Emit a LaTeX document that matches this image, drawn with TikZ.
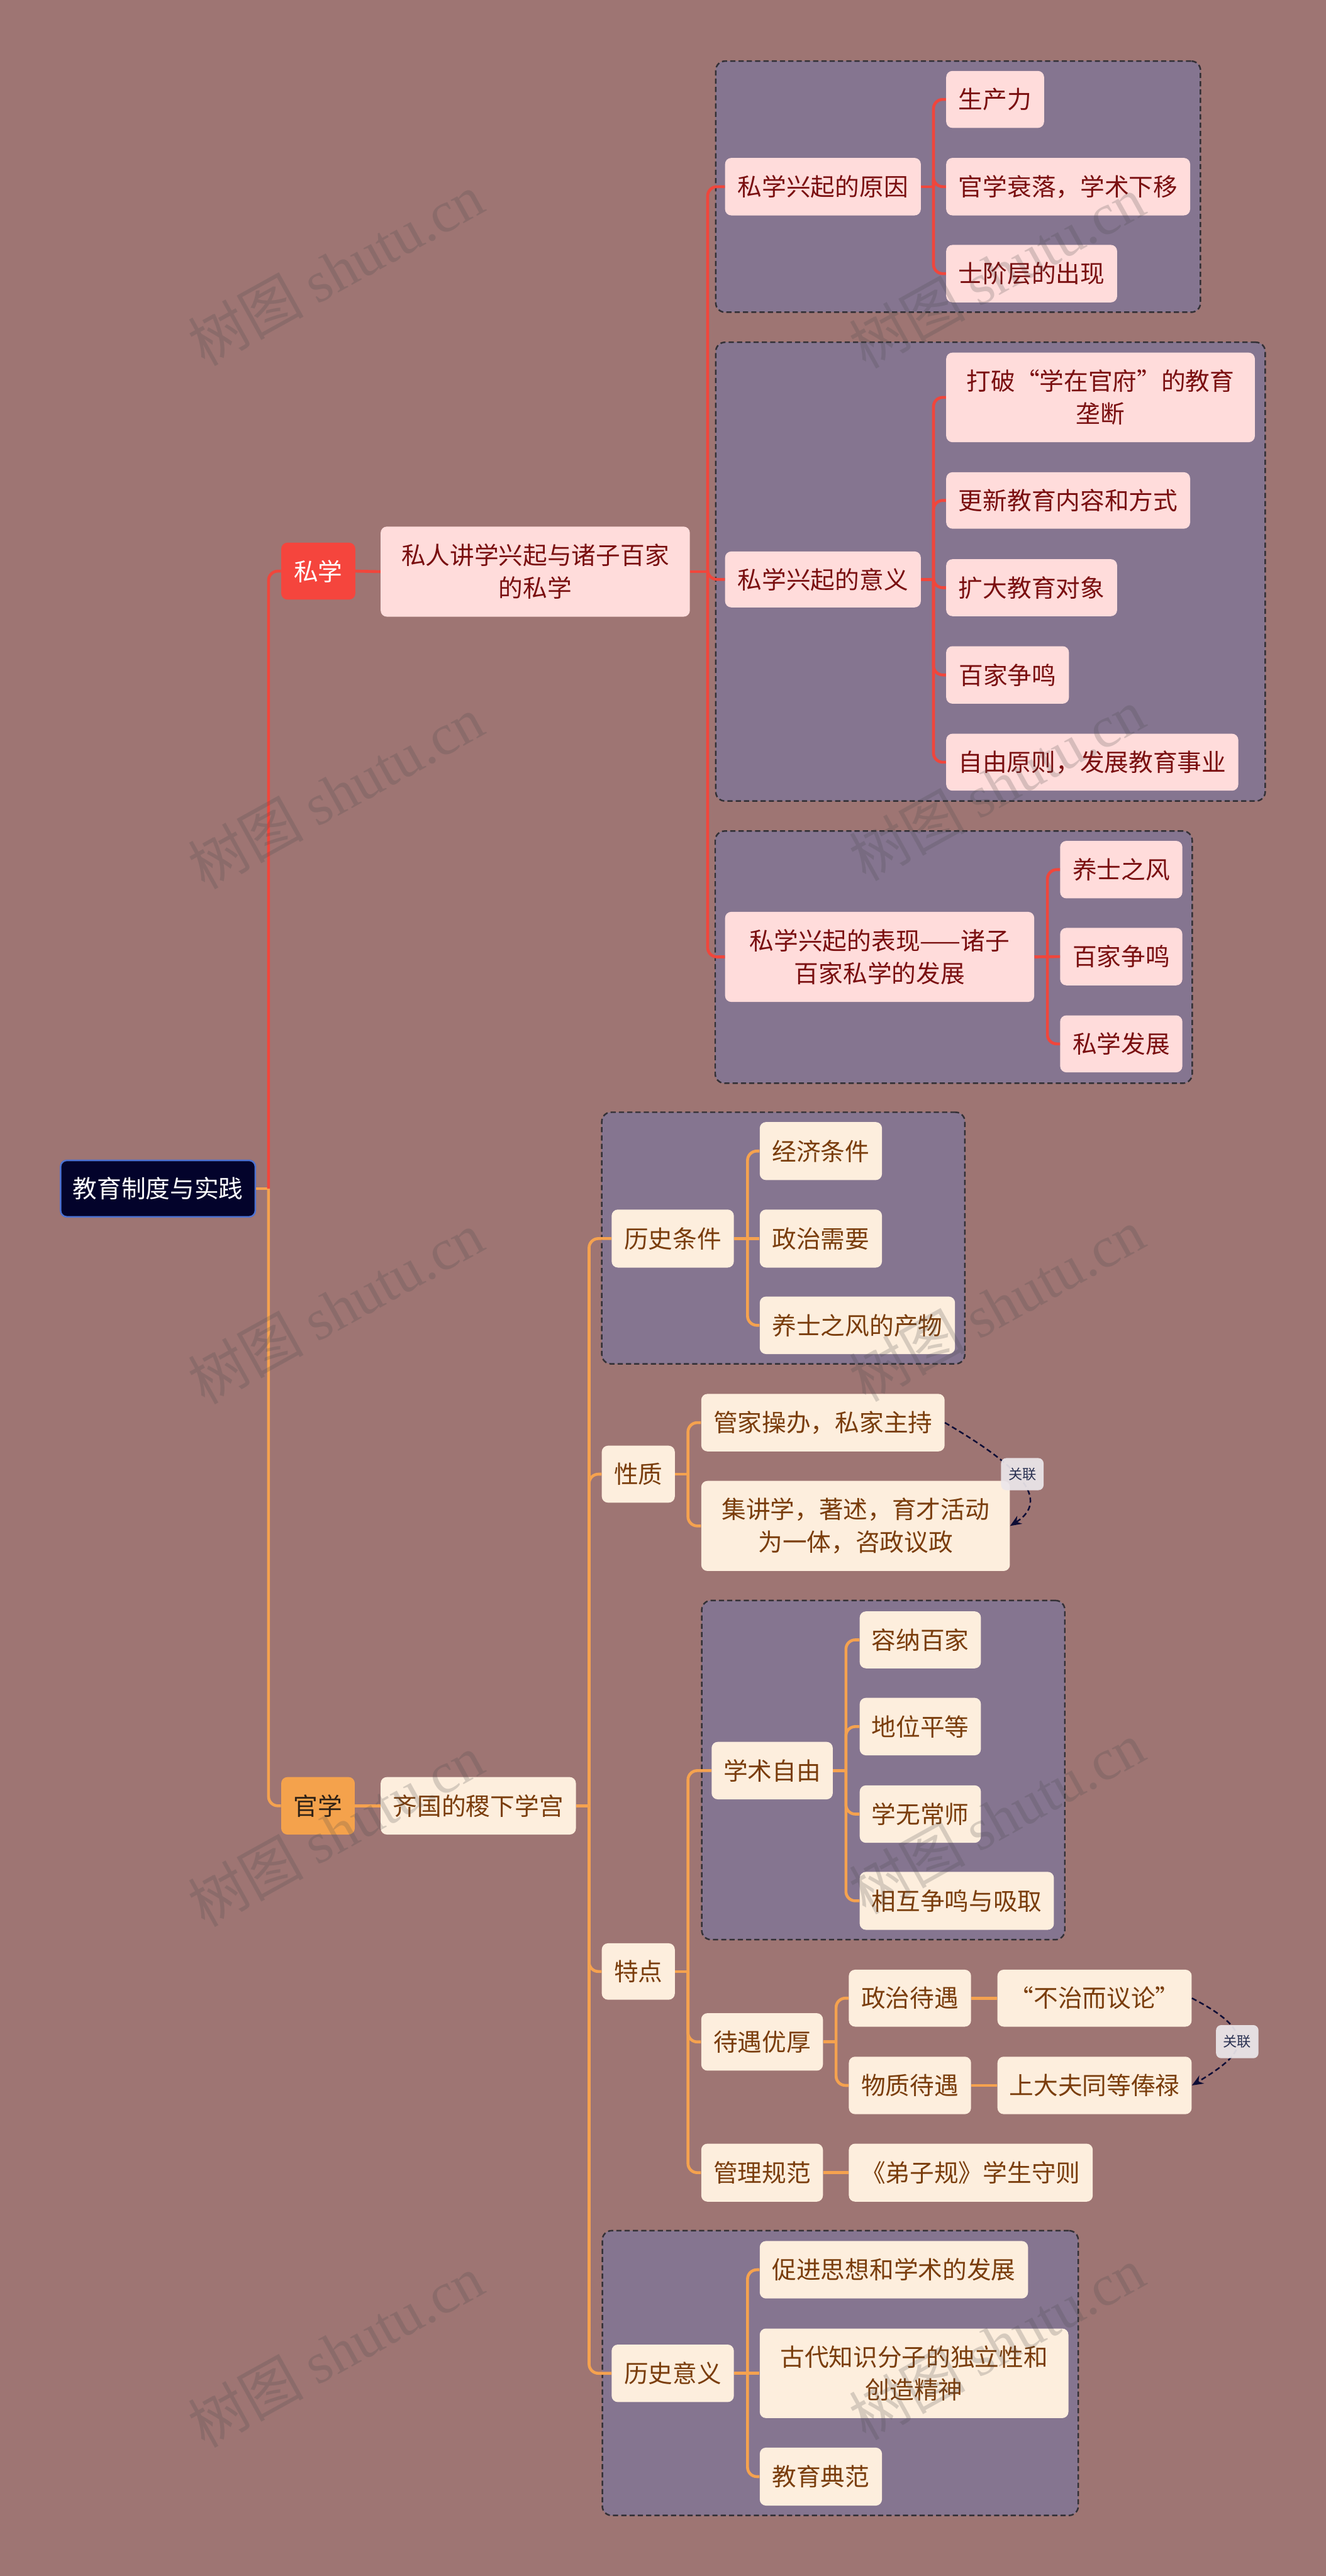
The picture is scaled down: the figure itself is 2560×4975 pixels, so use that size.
\documentclass[tikz,border=0pt]{standalone}
\usepackage{fontspec}
\setmainfont{Noto Sans CJK SC}
\newfontfamily\wmlat{Liberation Serif}
\usetikzlibrary{arrows.meta}
\definecolor{bg}{HTML}{9E7573}
\definecolor{grp}{HTML}{857590}
\definecolor{grpline}{HTML}{333036}
\definecolor{redl}{HTML}{F0463C}
\definecolor{orl}{HTML}{F5A24F}
\definecolor{pinkf}{HTML}{FFDCDB}
\definecolor{pinkt}{HTML}{7A0F10}
\definecolor{creamf}{HTML}{FDEEDD}
\definecolor{creamt}{HTML}{7A3D0C}
\definecolor{rootf}{HTML}{03032B}
\definecolor{rootb}{HTML}{4D72D2}
\definecolor{sxf}{HTML}{F5453D}
\definecolor{gxf}{HTML}{F4A24C}
\definecolor{gxt}{HTML}{2E2116}
\definecolor{relc}{HTML}{0D0D35}
\definecolor{labf}{HTML}{ECE7EB}
\definecolor{labt}{HTML}{2A3152}
\begin{document}
\begin{tikzpicture}[x=0.5pt,y=-0.5pt,
  bx/.style args={#1,#2,#3,#4}{at={({(#1+#3)/2},{(#2+#4)/2})}, anchor=center, minimum width={(#3-#1)*0.5pt}, minimum height={(#4-#2)*0.5pt}},
  base/.style={inner sep=0pt, rounded corners=6pt, align=center, font=\fontsize{23.5pt}{31.5pt}\selectfont},
  pnode/.style={base, fill=pinkf, text=pinkt},
  cnode/.style={base, fill=creamf, text=creamt},
  rootnode/.style={base, fill=rootf, draw=rootb, line width=1.5pt, text=white},
  sxnode/.style={base, fill=sxf, text=white},
  gxnode/.style={base, fill=gxf, text=gxt},
  grpbox/.style={inner sep=0pt, rounded corners=9pt, fill=grp, draw=grpline, line width=1.5pt, dash pattern=on 5pt off 3pt},
  rline/.style={draw=redl, line width=2.8pt},
  oline/.style={draw=orl, line width=2.8pt},
  rc/.style={rounded corners=9pt},
  rel/.style={draw=relc, line width=1.5pt, dash pattern=on 5pt off 3pt, -{Stealth[length=11pt,width=9pt]}},
  lab/.style={fill=labf, fill opacity=0.92, text opacity=1, text=labt, rounded corners=5pt, inner sep=0pt, font=\fontsize{13.5pt}{16pt}\selectfont},
  wm/.style={text=black!70, text opacity=0.22, font=\fontsize{56pt}{60pt}\selectfont, rotate=29, inner sep=0pt}
]
\useasboundingbox (0,0) rectangle (2560,4975);
\fill[bg] (0,0) rectangle (2560,4975);

% group boxes
\node[grpbox, bx={1382,118,2318,603}] (g1) {};
\node[grpbox, bx={1382,661,2443,1547}] (g2) {};
\node[grpbox, bx={1381,1605,2302,2092}] (g3) {};
\node[grpbox, bx={1162,2148,1863,2634}] (ga) {};
\node[grpbox, bx={1355,3091,2056,3746}] (gb) {};
\node[grpbox, bx={1163,4308,2082,4858}] (gd) {};

% root and level 1
\node[rootnode, bx={117,2241,493,2350}] (root) {教育制度与实践};
\node[sxnode, bx={543,1048,686,1158}] (sx) {私学};
\node[gxnode, bx={543,3432,685,3543}] (gx) {官学};
\node[pnode, bx={735,1017,1332,1191}] (sr) {私人讲学兴起与诸子百家\\的私学};
\node[cnode, bx={735,3432,1112,3543}] (jx) {齐国的稷下学宫};

% private branch
\node[pnode, bx={1400,305,1778,416}] (r1) {私学兴起的原因};
\node[pnode, bx={1827,137,2016,247}] (r11) {生产力};
\node[pnode, bx={1827,305,2298,416}] (r12) {官学衰落，学术下移};
\node[pnode, bx={1827,473,2157,584}] (r13) {士阶层的出现};
\node[pnode, bx={1400,1065,1778,1173}] (r2) {私学兴起的意义};
\node[pnode, bx={1827,681,2423,854}] (r21) {打破“学在官府”的教育\\垄断};
\node[pnode, bx={1827,912,2298,1021}] (r22) {更新教育内容和方式};
\node[pnode, bx={1827,1080,2157,1190}] (r23) {扩大教育对象};
\node[pnode, bx={1827,1248,2064,1359}] (r24) {百家争鸣};
\node[pnode, bx={1827,1417,2391,1527}] (r25) {自由原则，发展教育事业};
\node[pnode, bx={1400,1761,1997,1935}] (r3) {私学兴起的表现——诸子\\百家私学的发展};
\node[pnode, bx={2047,1624,2283,1735}] (r31) {养士之风};
\node[pnode, bx={2047,1792,2283,1903}] (r32) {百家争鸣};
\node[pnode, bx={2047,1961,2283,2071}] (r33) {私学发展};

% official branch
\node[cnode, bx={1181,2336,1417,2448}] (o1) {历史条件};
\node[cnode, bx={1467,2167,1703,2279}] (o11) {经济条件};
\node[cnode, bx={1467,2336,1703,2448}] (o12) {政治需要};
\node[cnode, bx={1467,2504,1844,2615}] (o13) {养士之风的产物};
\node[cnode, bx={1162,2792,1303,2902}] (o2) {性质};
\node[cnode, bx={1354,2692,1824,2803}] (o21) {管家操办，私家主持};
\node[cnode, bx={1354,2860,1950,3034}] (o22) {集讲学，著述，育才活动\\为一体，咨政议政};
\node[cnode, bx={1162,3753,1303,3862}] (o3) {特点};
\node[cnode, bx={1374,3364,1608,3475}] (o31) {学术自由};
\node[cnode, bx={1660,3112,1894,3222}] (o311) {容纳百家};
\node[cnode, bx={1660,3279,1894,3390}] (o312) {地位平等};
\node[cnode, bx={1660,3448,1894,3559}] (o313) {学无常师};
\node[cnode, bx={1660,3615,2035,3727}] (o314) {相互争鸣与吸取};
\node[cnode, bx={1354,3888,1589,3999}] (o32) {待遇优厚};
\node[cnode, bx={1639,3804,1875,3914}] (o321) {政治待遇};
\node[cnode, bx={1926,3804,2301,3914}] (o3211) {“不治而议论”};
\node[cnode, bx={1639,3972,1875,4083}] (o322) {物质待遇};
\node[cnode, bx={1926,3972,2301,4083}] (o3221) {上大夫同等俸禄};
\node[cnode, bx={1354,4140,1589,4252}] (o33) {管理规范};
\node[cnode, bx={1639,4140,2110,4252}] (o331) {《弟子规》学生守则};
\node[cnode, bx={1181,4528,1417,4639}] (o4) {历史意义};
\node[cnode, bx={1467,4328,1985,4439}] (o41) {促进思想和学术的发展};
\node[cnode, bx={1467,4497,2063,4670}] (o42) {古代知识分子的独立性和\\创造精神};
\node[cnode, bx={1467,4727,1703,4839}] (o43) {教育典范};

% connectors: root
\draw[oline] (root.east) -- ++(24,0);
\draw[oline, rc] (root.east) ++(24,0) |- (gx.west);
\draw[rline, rc] (root.east) ++(24,0) |- (sx.west);
\draw[rline] (sx.east) -- (sr.west);
\draw[oline] (gx.east) -- (jx.west);

% private connectors
\draw[rline] (sr.east) -- ++(34,0);
\foreach \c in {r1,r2,r3} \draw[rline, rc] (sr.east) ++(34,0) |- (\c.west);
\draw[rline] (r1.east) -- ++(24,0);
\foreach \c in {r11,r12,r13} \draw[rline, rc] (r1.east) ++(24,0) |- (\c.west);
\draw[rline] (r2.east) -- ++(24,0);
\foreach \c in {r21,r22,r23,r24,r25} \draw[rline, rc] (r2.east) ++(24,0) |- (\c.west);
\draw[rline] (r3.east) -- (r32.west);
\foreach \c in {r31,r33} \draw[rline, rc] (r3.east) ++(25,0) |- (\c.west);

% official connectors
\draw[oline] (jx.east) -- ++(25,0);
\foreach \c in {o1,o2,o3,o4} \draw[oline, rc] (jx.east) ++(25,0) |- (\c.west);
\draw[oline] (o1.east) -- (o12.west);
\foreach \c in {o11,o13} \draw[oline, rc] (o1.east) ++(26,0) |- (\c.west);
\draw[oline] (o2.east) -- ++(25,0);
\foreach \c in {o21,o22} \draw[oline, rc] (o2.east) ++(25,0) |- (\c.west);
\draw[oline] (o3.east) -- ++(25,0);
\foreach \c in {o31,o32,o33} \draw[oline, rc] (o3.east) ++(25,0) |- (\c.west);
\draw[oline] (o31.east) -- ++(25,0);
\foreach \c in {o311,o312,o313,o314} \draw[oline, rc] (o31.east) ++(25,0) |- (\c.west);
\draw[oline] (o32.east) -- ++(25,0);
\foreach \c in {o321,o322} \draw[oline, rc] (o32.east) ++(25,0) |- (\c.west);
\draw[oline] (o321.east) -- (o3211.west);
\draw[oline] (o322.east) -- (o3221.west);
\draw[oline] (o33.east) -- (o331.west);
\draw[oline] (o4.east) -- (o42.west);
\foreach \c in {o41,o43} \draw[oline, rc] (o4.east) ++(26,0) |- (\c.west);

% relations
\draw[rel] (o21.east) .. controls (1940,2815) and (2040,2890) .. (o22.east);
\draw[rel] (o3211.east) .. controls (2440,3930) and (2397,3970) .. (o3221.east);
\node[lab, bx={1933,2816,2015,2878}] (l1) {关联};
\node[lab, bx={2348,3911,2430,3975}] (l2) {关联};

% watermarks
\node[wm] (w1) at (648,520) {树图 {\wmlat shutu.cn}};
\node[wm] (w2) at (648,1530) {树图 {\wmlat shutu.cn}};
\node[wm] (w3) at (648,2525) {树图 {\wmlat shutu.cn}};
\node[wm] (w4) at (648,3535) {树图 {\wmlat shutu.cn}};
\node[wm] (w5) at (648,4540) {树图 {\wmlat shutu.cn}};
\node[wm] (w6) at (1925,525) {树图 {\wmlat shutu.cn}};
\node[wm] (w7) at (1925,1515) {树图 {\wmlat shutu.cn}};
\node[wm] (w8) at (1925,2520) {树图 {\wmlat shutu.cn}};
\node[wm] (w9) at (1925,3510) {树图 {\wmlat shutu.cn}};
\node[wm] (w10) at (1925,4525) {树图 {\wmlat shutu.cn}};
\end{tikzpicture}
\end{document}
